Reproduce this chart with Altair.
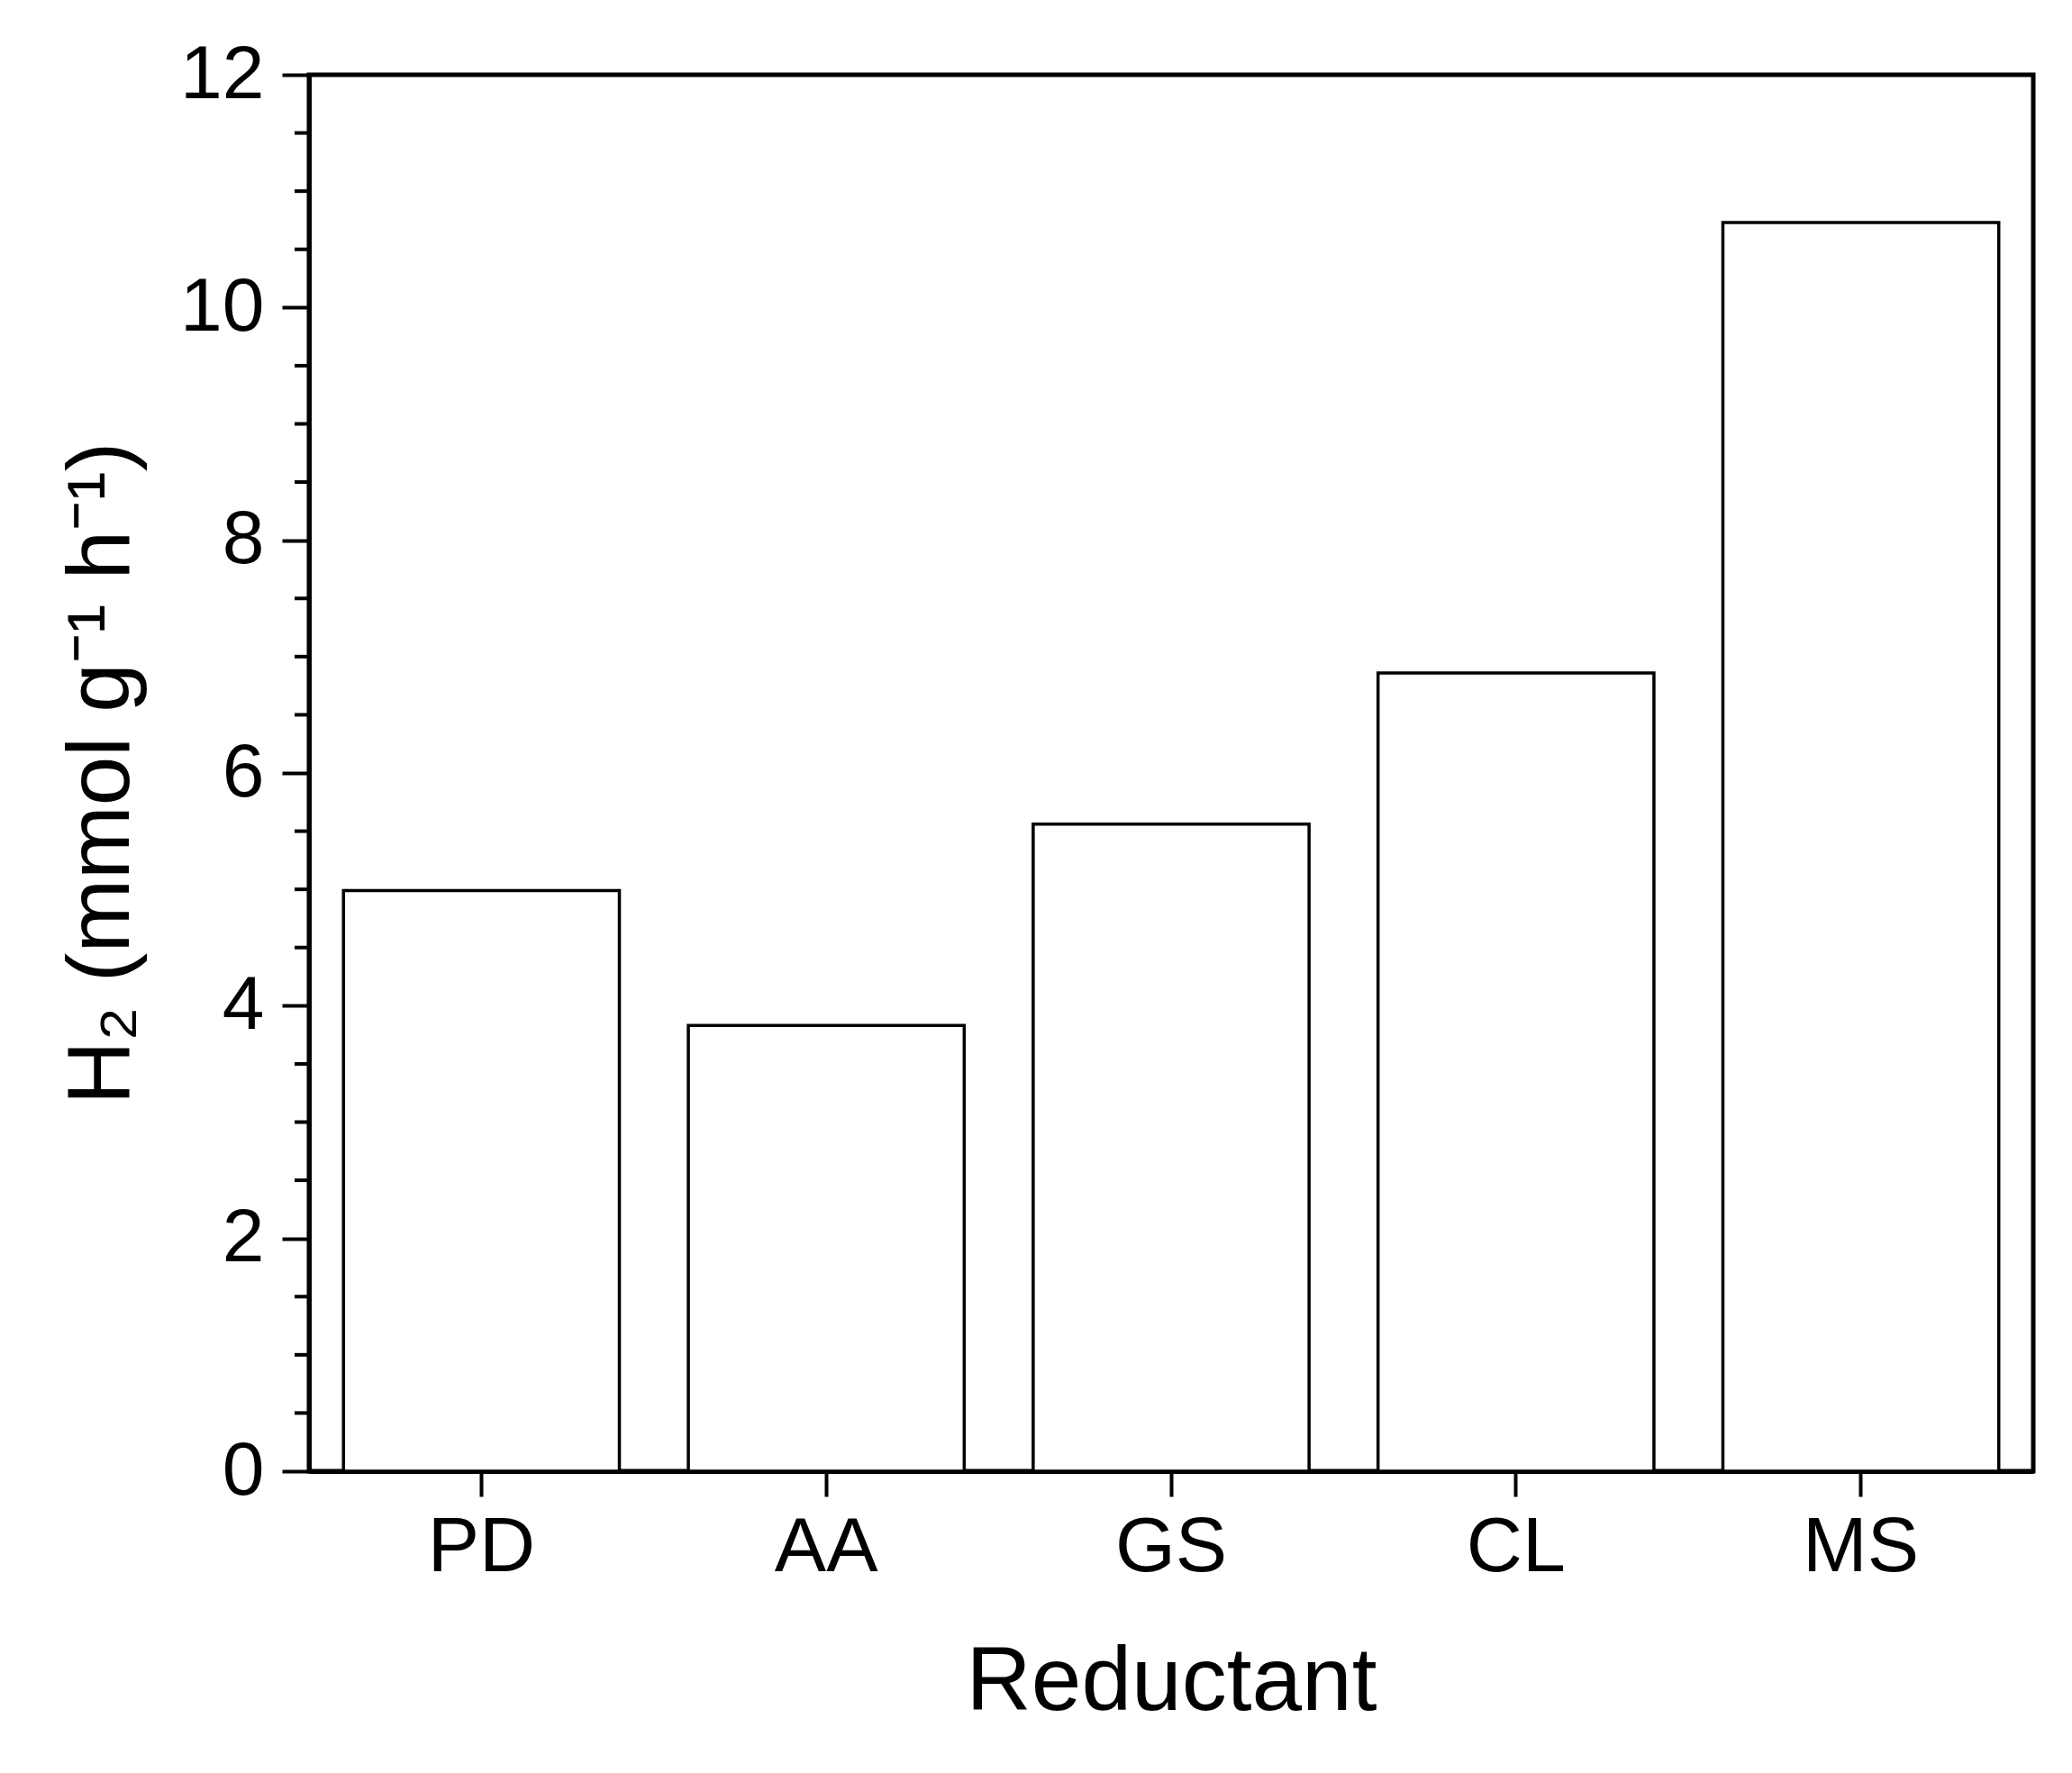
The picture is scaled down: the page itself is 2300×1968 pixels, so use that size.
import altair as alt
import pandas as pd

categories = ["PD", "AA", "GS", "CL", "MS"]
h2_rates = [4.99, 3.83, 5.56, 6.86, 10.73]
major_ticks = [0, 2, 4, 6, 8, 10, 12]
minor_ticks = [0.5, 1, 1.5, 2.5, 3, 3.5, 4.5, 5, 5.5, 6.5, 7, 7.5,
               8.5, 9, 9.5, 10.5, 11, 11.5]

bars_df = pd.DataFrame({"Reductant": categories, "H2": h2_rates})
minor_df = pd.DataFrame({"H2": minor_ticks})

FONT = "Liberation Sans"
Y_TITLE = "H₂ (mmol g⁻¹ h⁻¹)"

y_axis = alt.Axis(
    title=Y_TITLE,
    values=major_ticks,
    grid=False,
    labelFont=FONT,
    labelFontSize=84,
    labelColor="black",
    labelPadding=20,
    tickSize=30,
    tickWidth=4,
    tickColor="black",
    domainColor="black",
    domainWidth=5,
    titleFont=FONT,
    titleFontSize=98,
    titleFontWeight="normal",
    titleColor="black",
    titlePadding=36,
)

bars = alt.Chart(bars_df).mark_bar(
    fill="white", stroke="black", strokeWidth=3.5
).encode(
    x=alt.X(
        "Reductant:N",
        sort=categories,
        scale=alt.Scale(paddingInner=0.2, paddingOuter=0.1),
        axis=alt.Axis(
            title="Reductant",
            labelAngle=0,
            labelFont=FONT,
            labelFontSize=86,
            labelColor="black",
            labelPadding=14,
            tickSize=28,
            tickWidth=4,
            tickColor="black",
            domainColor="black",
            domainWidth=5,
            titleFont=FONT,
            titleFontSize=100,
            titleFontWeight="normal",
            titleColor="black",
            titlePadding=58,
        ),
    ),
    y=alt.Y(
        "H2:Q",
        scale=alt.Scale(domain=[0, 12], nice=False),
        axis=y_axis,
        title=Y_TITLE,
    ),
)

minor = alt.Chart(minor_df).mark_rule(color="black", strokeWidth=4).encode(
    y=alt.Y("H2:Q", axis=y_axis, title=Y_TITLE),
    x=alt.value(-16),
    x2=alt.value(0),
)

chart = alt.layer(bars, minor).properties(
    width=1914,
    height=1550,
    background="white",
    autosize=alt.AutoSizeParams(type="none"),
    padding={"left": 335, "top": 75, "right": 30, "bottom": 330},
).configure_view(
    stroke="black", strokeWidth=5
)

chart.save("out.html", embed_options={"renderer": "svg", "actions": False})
